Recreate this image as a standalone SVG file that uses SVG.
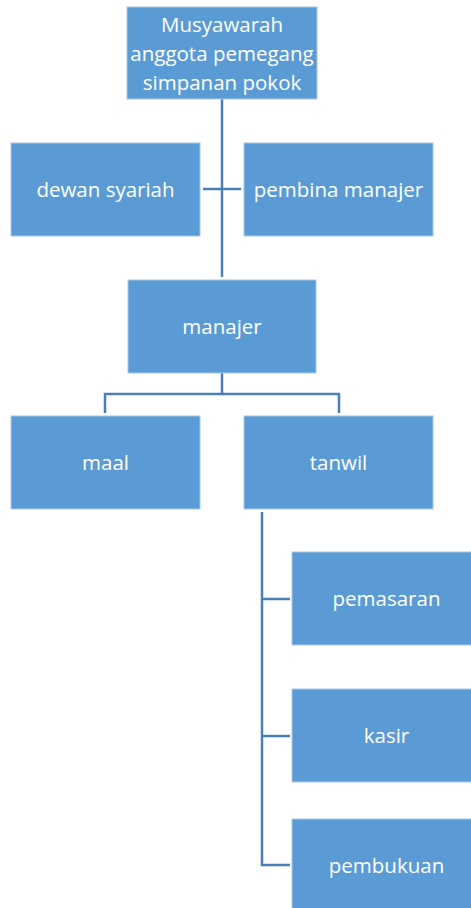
<svg xmlns="http://www.w3.org/2000/svg" width="471" height="908" viewBox="0 0 471 908">
<style>
.box{fill:#5B9BD5;stroke:#A9C8E8;stroke-width:1}
.t{font-family:"Open Sans","Liberation Sans",Arial,sans-serif;font-size:20.5px;fill:#FFFFFF;text-anchor:middle}
.ln{fill:none;stroke:#4A7FB5;stroke-width:2.5}
</style>
<rect width="471" height="908" fill="#FFFFFF"/>
<g id="connectors">
<path class="ln" d="M222 99 V277"/>
<path class="ln" d="M203 189 H241"/>
<path class="ln" d="M222 373 V394 M105 413 V394 H339 V413"/>
<path class="ln" d="M262 512 V865 H290 M262 599 H290 M262 736 H290"/>
</g>
<g id="musyawarah">
<rect class="box" x="127" y="7" width="190" height="92"/>
<text class="t" x="222" y="32">Musyawarah</text>
<text class="t" x="222" y="61">anggota pemegang</text>
<text class="t" x="222" y="90">simpanan pokok</text>
</g>
<g id="dewan-syariah">
<rect class="box" x="11" y="143" width="189" height="93"/>
<text class="t" x="105.5" y="197">dewan syariah</text>
</g>
<g id="pembina-manajer">
<rect class="box" x="244" y="143" width="189" height="93"/>
<text class="t" x="338.5" y="197">pembina manajer</text>
</g>
<g id="manajer">
<rect class="box" x="128" y="280" width="188" height="93"/>
<text class="t" x="222" y="334">manajer</text>
</g>
<g id="maal">
<rect class="box" x="11" y="416" width="189" height="93"/>
<text class="t" x="105.5" y="470">maal</text>
</g>
<g id="tanwil">
<rect class="box" x="244" y="416" width="189" height="93"/>
<text class="t" x="338.5" y="470">tanwil</text>
</g>
<g id="pemasaran">
<rect class="box" x="292" y="552" width="189" height="93"/>
<text class="t" x="386.5" y="606">pemasaran</text>
</g>
<g id="kasir">
<rect class="box" x="292" y="689" width="189" height="93"/>
<text class="t" x="386.5" y="743">kasir</text>
</g>
<g id="pembukuan">
<rect class="box" x="292" y="819" width="189" height="93"/>
<text class="t" x="386.5" y="873">pembukuan</text>
</g>
</svg>
